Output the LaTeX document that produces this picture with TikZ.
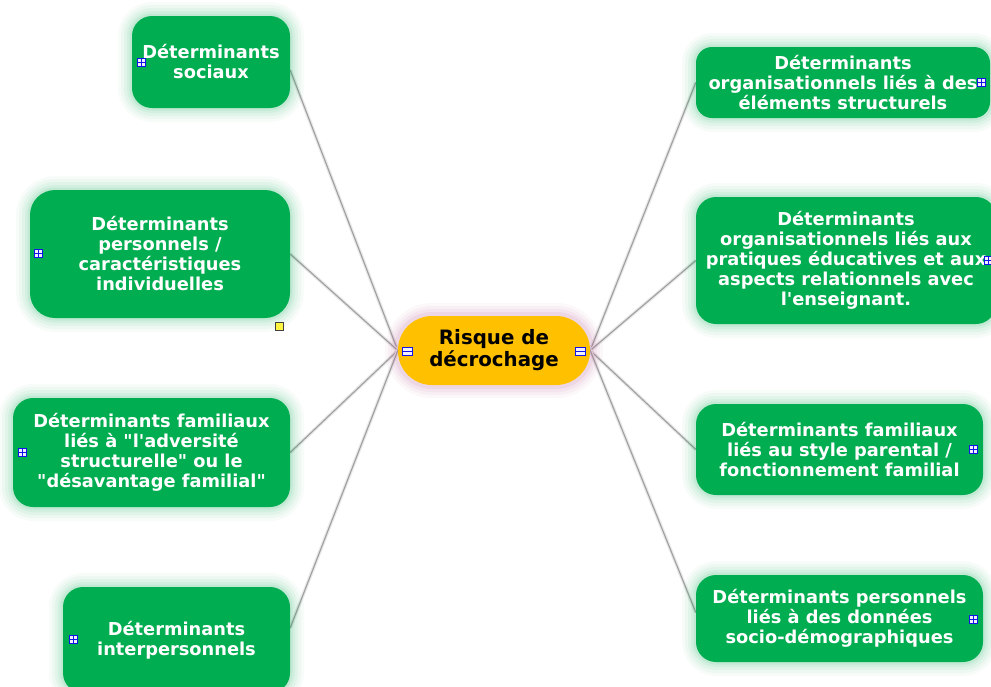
\documentclass[tikz,border=0pt]{standalone}
\usepackage{fontspec}
\setmainfont{DejaVu Sans}[Ligatures=TeXOff]
\usetikzlibrary{backgrounds}
\definecolor{mmgreen}{RGB}{0,173,80}
\definecolor{mmorange}{RGB}{255,192,0}
\definecolor{mmpink}{RGB}{190,90,150}
\definecolor{iconblue}{RGB}{20,20,230}
\begin{document}
\begin{tikzpicture}[x=1pt,y=-1pt,
  gbox/.style={rectangle, rounded corners=20pt, fill=mmgreen, text=white,
    font=\bfseries\fontsize{17.8}{20}\selectfont, align=center, inner sep=0pt,
    preaction={draw=mmgreen, opacity=0.03, line width=28pt},
    preaction={draw=mmgreen, opacity=0.04, line width=22pt},
    preaction={draw=mmgreen, opacity=0.05, line width=16pt},
    preaction={draw=mmgreen, opacity=0.06, line width=10pt},
    preaction={draw=mmgreen, opacity=0.08, line width=5pt}},
  cbox/.style={rectangle, rounded corners=34pt, fill=mmorange, text=black,
    font=\bfseries\fontsize{19.8}{22}\selectfont, align=center, inner sep=0pt,
    preaction={draw=mmpink, opacity=0.04, line width=26pt},
    preaction={draw=mmpink, opacity=0.05, line width=20pt},
    preaction={draw=mmpink, opacity=0.07, line width=14pt},
    preaction={draw=mmpink, opacity=0.09, line width=8pt}},
  plusicon/.style={rectangle, draw=iconblue, fill=blue!6, minimum size=8pt, inner sep=0pt, line width=0.9pt,
    path picture={\draw[iconblue, line width=0.8pt] (path picture bounding box.north) -- (path picture bounding box.south)
      (path picture bounding box.west) -- (path picture bounding box.east);}},
  minusicon/.style={rectangle, draw=iconblue, fill=blue!6, minimum width=10pt, minimum height=8pt, inner sep=0pt, line width=0.9pt,
    path picture={\draw[iconblue, line width=0.9pt] (path picture bounding box.west) -- (path picture bounding box.east);}},
  noteicon/.style={rectangle, draw=black!75, fill=yellow!75, minimum size=8pt, inner sep=0pt, line width=0.8pt},
  link/.style={draw=gray!75, line width=1.1pt, preaction={draw=gray!18, line width=3.5pt}}
]
\useasboundingbox (0,0) rectangle (991,686);
\clip (0,0) rectangle (991,686);

% central node
\node[cbox, minimum width=192pt, minimum height=69pt] (ctr) at (494,350.5) {Risque de\\décrochage};

% left nodes
\node[gbox, minimum width=158pt, minimum height=92pt] (soc) at (211,62) {Déterminants\\sociaux};
\node[gbox, rounded corners=25pt, minimum width=260pt, minimum height=128pt] (pers) at (160,254) {Déterminants\\personnels /\\caractéristiques\\individuelles};
\node[gbox, minimum width=277pt, minimum height=109pt] (famL) at (151.5,452.5) {Déterminants familiaux\\liés à "l'adversité\\structurelle" ou le\\"désavantage familial"};
\node[gbox, minimum width=227pt, minimum height=106pt] (inter) at (176.5,640) {Déterminants\\interpersonnels};

% right nodes
\node[gbox, rounded corners=16pt, minimum width=294pt, minimum height=71pt] (r1) at (843,82.5) {Déterminants\\organisationnels liés à des\\éléments structurels};
\node[gbox, minimum width=300pt, minimum height=127pt] (r2) at (846,260.5) {Déterminants\\organisationnels liés aux\\pratiques éducatives et aux\\aspects relationnels avec\\l'enseignant.};
\node[gbox, minimum width=287pt, minimum height=91pt] (r3) at (839.5,449.5) {Déterminants familiaux\\liés au style parental /\\fonctionnement familial};
\node[gbox, minimum width=287pt, minimum height=87pt] (r4) at (839.5,618.5) {Déterminants personnels\\liés à des données\\socio-démographiques};

% connectors
\begin{scope}[on background layer]
  \fill[white] (0,0) rectangle (991,686);
  \draw[link] (ctr.west) -- ([yshift=-8pt]soc.east);
  \draw[link] (ctr.west) -- (pers.east);
  \draw[link] (ctr.west) -- (famL.east);
  \draw[link] (ctr.west) -- ([yshift=12pt]inter.east);
  \draw[link] (ctr.east) -- (r1.west);
  \draw[link] (ctr.east) -- (r2.west);
  \draw[link] (ctr.east) -- (r3.west);
  \draw[link] (ctr.east) -- ([yshift=6pt]r4.west);
\end{scope}

% icons
\node[plusicon] (isoc) at (141,62) {};
\node[plusicon] (ipers) at (38,253) {};
\node[plusicon] (ifamL) at (22,452) {};
\node[plusicon] (iinter) at (73,639) {};
\node[plusicon] (ir1) at (981,82) {};
\node[plusicon] (ir2) at (988,260) {};
\node[plusicon] (ir3) at (973,449) {};
\node[plusicon] (ir4) at (973,619) {};
\node[minusicon] (ictrL) at (407,351) {};
\node[minusicon] (ictrR) at (580,351) {};
\node[noteicon] (note) at (279,326) {};
\end{tikzpicture}
\end{document}
